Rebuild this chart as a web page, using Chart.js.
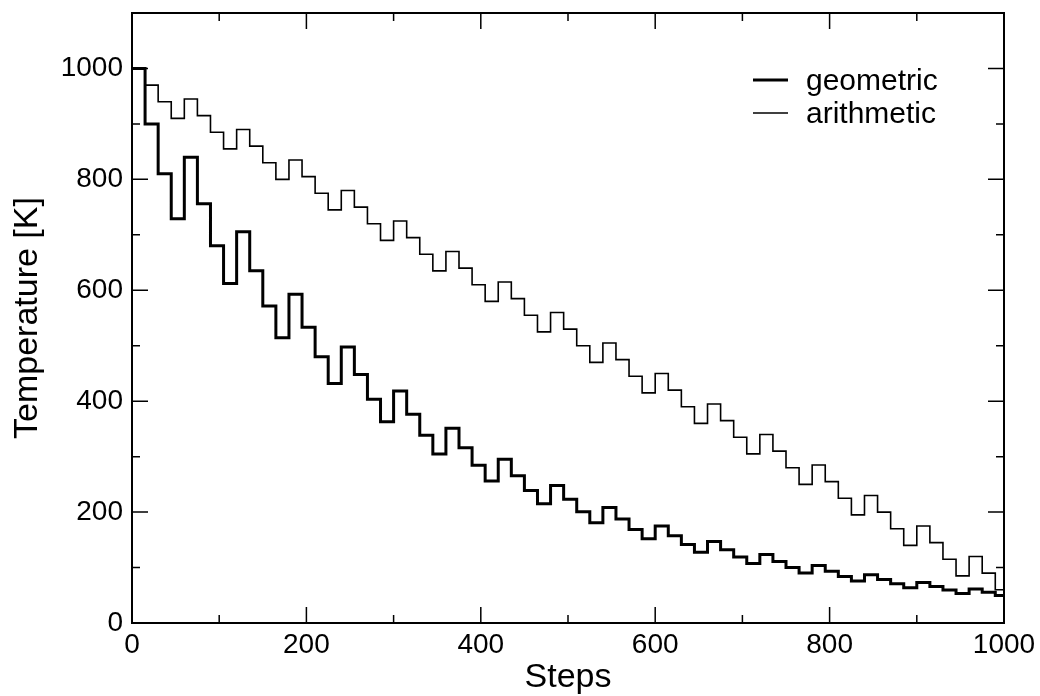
<!DOCTYPE html>
<html>
<head>
<meta charset="utf-8">
<script src="https://cdn.jsdelivr.net/npm/chart.js@4.4.1/dist/chart.umd.min.js"></script>
<style>
  html, body { margin: 0; padding: 0; background: #ffffff; }
  #wrap { width: 1040px; height: 696px; position: relative; }
</style>
</head>
<body>
<div id="wrap"><canvas id="c" width="1040" height="696"></canvas></div>
<script>
// ---- data ----
const steps = [0,15,30,45,60,75,90,105,120,135,150,165,180,195,210,225,240,255,270,285,
  300,315,330,345,360,375,390,405,420,435,450,465,480,495,510,525,540,555,570,585,
  600,615,630,645,660,675,690,705,720,735,750,765,780,795,810,825,840,855,870,885,
  900,915,930,945,960,975,990,1000];

const geometric = [
  1000, 900, 810, 729,
  840, 756, 680.4, 612.4,
  705.6, 635.0, 571.5, 514.4,
  592.7, 533.4, 480.1, 432.1,
  497.9, 448.1, 403.3, 363.0,
  418.2, 376.4, 338.7, 304.9,
  351.3, 316.2, 284.6, 256.1,
  295.1, 265.6, 239.0, 215.1,
  247.9, 223.1, 200.8, 180.7,
  208.2, 187.4, 168.6, 151.8,
  174.9, 157.4, 141.7, 127.5,
  146.9, 132.2, 119.0, 107.1,
  123.4, 111.1, 100.0, 90.0,
  103.7, 93.3, 84.0, 75.6,
  87.1, 78.4, 70.6, 63.5,
  73.2, 65.9, 59.3, 53.4,
  61.4, 55.3, 49.8, 49.8
];

const arithmetic = [
  1000, 970, 940, 910,
  945, 915, 885, 855,
  890, 860, 830, 800,
  835, 805, 775, 745,
  780, 750, 720, 690,
  725, 695, 665, 635,
  670, 640, 610, 580,
  615, 585, 555, 525,
  560, 530, 500, 470,
  505, 475, 445, 415,
  450, 420, 390, 360,
  395, 365, 335, 305,
  340, 310, 280, 250,
  285, 255, 225, 195,
  230, 200, 170, 140,
  175, 145, 115, 85,
  120, 90, 60, 60
];

const seriesLabels = ['geometric', 'arithmetic'];
const xTickLabels = [0, 200, 400, 600, 800, 1000];
const yTickLabels = [0, 200, 400, 600, 800, 1000];
const xMinorTicks = [100, 300, 500, 700, 900];
const yMinorTicks = [100, 300, 500, 700, 900];
const xTitle = 'Steps';
const yTitle = 'Temperature [K]';

// ---- chart ----
const FONT = "'Liberation Sans', Arial, Helvetica, sans-serif";
Chart.defaults.font.family = FONT;
Chart.defaults.color = '#000000';

function toPoints(xs, ys) { return xs.map((x, i) => ({ x: x, y: ys[i] })); }
function zeroPad(s) { s.paddingTop = 0; s.paddingBottom = 0; s.paddingLeft = 0; s.paddingRight = 0; }

const frameAndTicks = {
  id: 'frameAndTicks',
  afterDatasetsDraw(chart) {
    const { ctx, chartArea: a, scales: { x, y } } = chart;
    ctx.save();
    ctx.strokeStyle = '#000';
    ctx.lineWidth = 1.5;
    ctx.lineCap = 'butt';
    const MAJ = 16, MIN = 8;
    const vTick = (px, len) => {
      ctx.beginPath();
      ctx.moveTo(px, a.bottom); ctx.lineTo(px, a.bottom - len);
      ctx.moveTo(px, a.top); ctx.lineTo(px, a.top + len);
      ctx.stroke();
    };
    const hTick = (py, len) => {
      ctx.beginPath();
      ctx.moveTo(a.left, py); ctx.lineTo(a.left + len, py);
      ctx.moveTo(a.right, py); ctx.lineTo(a.right - len, py);
      ctx.stroke();
    };
    xTickLabels.forEach(v => vTick(x.getPixelForValue(v), MAJ));
    xMinorTicks.forEach(v => vTick(x.getPixelForValue(v), MIN));
    yTickLabels.forEach(v => hTick(y.getPixelForValue(v), MAJ));
    yMinorTicks.forEach(v => hTick(y.getPixelForValue(v), MIN));
    ctx.lineWidth = 2;
    ctx.strokeRect(a.left, a.top, a.right - a.left, a.bottom - a.top);
    ctx.restore();
  }
};

const insideLegend = {
  id: 'insideLegend',
  afterDraw(chart) {
    const { ctx } = chart;
    ctx.save();
    ctx.font = '30px ' + FONT;
    ctx.fillStyle = '#000';
    ctx.textBaseline = 'middle';
    ctx.textAlign = 'left';
    const rows = [80, 113];
    chart.data.datasets.forEach((ds, i) => {
      ctx.beginPath();
      ctx.strokeStyle = '#000';
      ctx.lineWidth = ds.borderWidth;
      ctx.moveTo(753, rows[i]);
      ctx.lineTo(788, rows[i]);
      ctx.stroke();
      ctx.fillText(ds.label, 806, rows[i] + 2);
    });
    ctx.restore();
  }
};

new Chart(document.getElementById('c'), {
  type: 'line',
  data: {
    datasets: [
      {
        label: seriesLabels[0],
        data: toPoints(steps, geometric),
        stepped: true,
        borderColor: '#000000',
        borderWidth: 3,
        pointRadius: 0,
        fill: false,
        borderJoinStyle: 'miter',
        borderCapStyle: 'butt'
      },
      {
        label: seriesLabels[1],
        data: toPoints(steps, arithmetic),
        stepped: true,
        borderColor: '#000000',
        borderWidth: 1.6,
        pointRadius: 0,
        fill: false,
        borderJoinStyle: 'miter',
        borderCapStyle: 'butt'
      }
    ]
  },
  options: {
    responsive: false,
    animation: false,
    devicePixelRatio: 1,
    layout: { padding: { left: 0, right: 36, top: 13, bottom: 0 } },
    plugins: { legend: { display: false }, tooltip: { enabled: false } },
    scales: {
      x: {
        type: 'linear',
        min: 0, max: 1000,
        afterBuildTicks: s => { s.ticks = xTickLabels.map(v => ({ value: v })); },
        afterFit: s => { s.height = 73; zeroPad(s); },
        grid: { display: false, drawTicks: false },
        border: { display: false },
        ticks: { font: { size: 28 }, padding: 5, maxRotation: 0, autoSkip: false, color: '#000',
                 callback: v => String(v) },
        title: { display: true, text: xTitle, font: { size: 34, lineHeight: 1 }, padding: { top: 0, bottom: 1 }, color: '#000' }
      },
      y: {
        type: 'linear',
        min: 0, max: 1100,
        afterBuildTicks: s => { s.ticks = yTickLabels.map(v => ({ value: v })); },
        afterFit: s => { s.width = 132; zeroPad(s); },
        grid: { display: false, drawTicks: false },
        border: { display: false },
        ticks: { font: { size: 28 }, padding: 9, autoSkip: false, color: '#000',
                 callback: v => String(v) },
        title: { display: true, text: yTitle, font: { size: 34, lineHeight: 1 }, padding: { top: 11, bottom: 0 }, color: '#000' }
      }
    }
  },
  plugins: [frameAndTicks, insideLegend]
});
</script>
</body>
</html>
